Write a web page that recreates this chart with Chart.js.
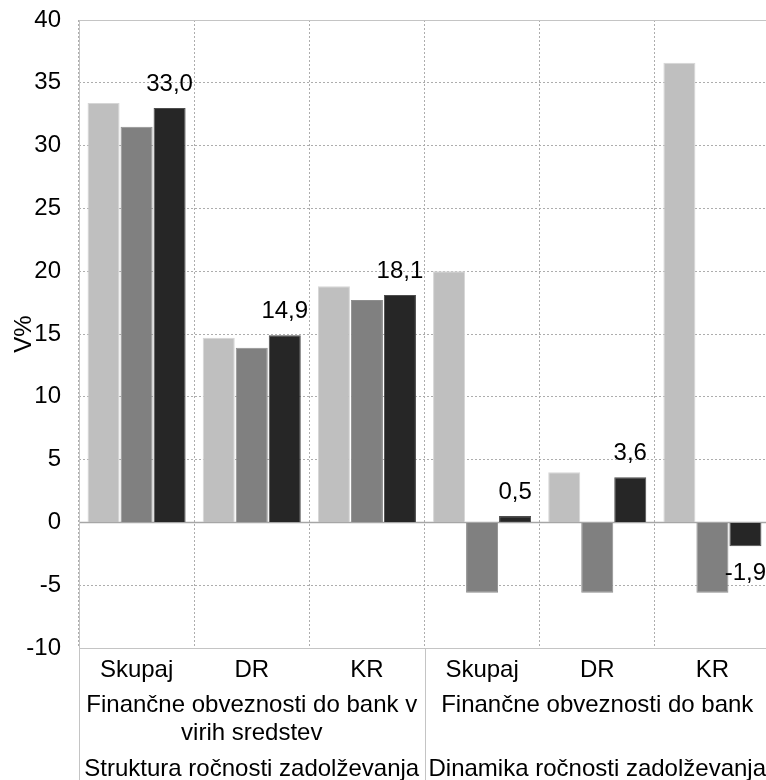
<!DOCTYPE html>
<html>
<head>
<meta charset="utf-8">
<script src="https://cdn.jsdelivr.net/npm/chart.js@4.4.1/dist/chart.umd.min.js"></script>
<style>
  html, body { margin: 0; padding: 0; background: #fff; overflow: hidden; }
  #wrap { width: 770px; height: 780px; }
</style>
</head>
<body>
<div id="wrap"><canvas id="chart" width="770" height="780"></canvas></div>
<script>
// Data
const categories = ['Skupaj', 'DR', 'KR', 'Skupaj', 'DR', 'KR'];
const groupLabels = [['Finančne obveznosti do bank v', 'virih sredstev'], ['Finančne obveznosti do bank']];
const sectionLabels = ['Struktura ročnosti zadolževanja', 'Dinamika ročnosti zadolževanja'];
const groupSize = 3;
const seriesA = [33.4, 14.7, 18.8, 20.0, 4.0, 36.6];
const seriesB = [31.5, 13.9, 17.7, -5.6, -5.6, -5.6];
const seriesC = [33.0, 14.9, 18.1, 0.5, 3.6, -1.9];
const yTicks = { min: -10, max: 40, step: 5 };

const FONT = "'Liberation Sans', Arial, sans-serif";
const fmt = v => v.toFixed(1).replace('.', ',');

// Zero line + lines under the axis
const framePlugin = {
  id: 'frame',
  beforeDatasetsDraw(chart) {
    const { ctx, chartArea, scales } = chart;
    const y0 = scales.y.getPixelForValue(0);
    ctx.save();
    ctx.strokeStyle = '#a6a6a6';
    ctx.lineWidth = 1.5;
    ctx.beginPath();
    ctx.moveTo(chartArea.left, y0);
    ctx.lineTo(chartArea.right, y0);
    ctx.stroke();
    ctx.restore();
  },
  afterDraw(chart) {
    const { ctx, chartArea, scales } = chart;
    const x = scales.x;
    const h = chart.height;
    ctx.save();
    ctx.strokeStyle = '#c4c4c4';
    ctx.lineWidth = 1;
    // top + left border
    ctx.beginPath();
    ctx.moveTo(chartArea.left, chartArea.top + 0.5);
    ctx.lineTo(chartArea.right, chartArea.top + 0.5);
    ctx.moveTo(chartArea.left + 0.5, chartArea.top);
    ctx.lineTo(chartArea.left + 0.5, h);
    // axis line
    ctx.moveTo(chartArea.left, chartArea.bottom + 0.5);
    ctx.lineTo(chartArea.right, chartArea.bottom + 0.5);
    // group separators below the axis
    for (let g = 1; g < groupLabels.length; g++) {
      const i = g * groupSize;
      const sx = Math.round((x.getPixelForValue(i - 1) + x.getPixelForValue(i)) / 2) + 0.5;
      ctx.moveTo(sx, chartArea.bottom);
      ctx.lineTo(sx, h);
    }
    ctx.stroke();

    // x labels, three levels
    ctx.fillStyle = '#000';
    ctx.font = '24px ' + FONT;
    ctx.textAlign = 'center';
    ctx.textBaseline = 'alphabetic';
    const b = chartArea.bottom;
    categories.forEach((c, i) => {
      ctx.fillText(c, x.getPixelForValue(i), b + 29);
    });
    groupLabels.forEach((lines, g) => {
      const cx = (x.getPixelForValue(g * groupSize) + x.getPixelForValue(g * groupSize + groupSize - 1)) / 2;
      lines.forEach((t, k) => ctx.fillText(t, cx, b + 64 + k * 28));
      ctx.fillText(sectionLabels[g], cx, b + 128);
    });
    ctx.restore();
  }
};

// Value labels on the dark series
const valueLabels = {
  id: 'valueLabels',
  afterDatasetsDraw(chart) {
    const { ctx } = chart;
    const meta = chart.getDatasetMeta(2);
    const data = chart.data.datasets[2].data;
    ctx.save();
    ctx.fillStyle = '#000';
    ctx.font = '24px ' + FONT;
    ctx.textAlign = 'center';
    ctx.textBaseline = 'alphabetic';
    meta.data.forEach((bar, i) => {
      const v = data[i];
      const ty = v >= 0 ? bar.y - 17 : bar.y + 34;
      ctx.fillText(fmt(v), bar.x, ty);
    });
    ctx.restore();
  }
};

new Chart(document.getElementById('chart'), {
  type: 'bar',
  data: {
    labels: categories,
    datasets: [
      { label: 'A', data: seriesA, backgroundColor: '#bfbfbf', borderColor: '#d6d6d6', borderWidth: 1 },
      { label: 'B', data: seriesB, backgroundColor: '#808080', borderColor: '#8e8e8e', borderWidth: 1 },
      { label: 'C', data: seriesC, backgroundColor: '#262626', borderColor: '#4d4d4d', borderWidth: 1 }
    ]
  },
  options: {
    responsive: false,
    animation: false,
    layout: { padding: { top: 20, right: 0, bottom: 0, left: 0 } },
    datasets: { bar: { categoryPercentage: 0.86, barPercentage: 0.97 } },
    plugins: { legend: { display: false }, tooltip: { enabled: false } },
    scales: {
      x: {
        ticks: { display: false },
        grid: { color: '#adadad', lineWidth: 1, drawTicks: false, offset: true },
        border: { display: false, dash: [2, 2] },
        afterFit: s => { s.height = 132; }
      },
      y: {
        min: yTicks.min,
        max: yTicks.max,
        ticks: {
          stepSize: yTicks.step,
          color: '#000',
          padding: 18,
          font: { family: FONT, size: 24 }
        },
        grid: { color: '#adadad', lineWidth: 1, drawTicks: false },
        border: { display: false, dash: [2, 2] },
        title: {
          display: true,
          text: 'V%',
          color: '#000',
          font: { family: FONT, size: 24 },
          padding: { top: 10, bottom: 0 }
        },
        afterFit: s => { s.width = 79; s.paddingTop = 0; s.paddingBottom = 0; }
      }
    }
  },
  plugins: [framePlugin, valueLabels]
});
</script>
</body>
</html>
